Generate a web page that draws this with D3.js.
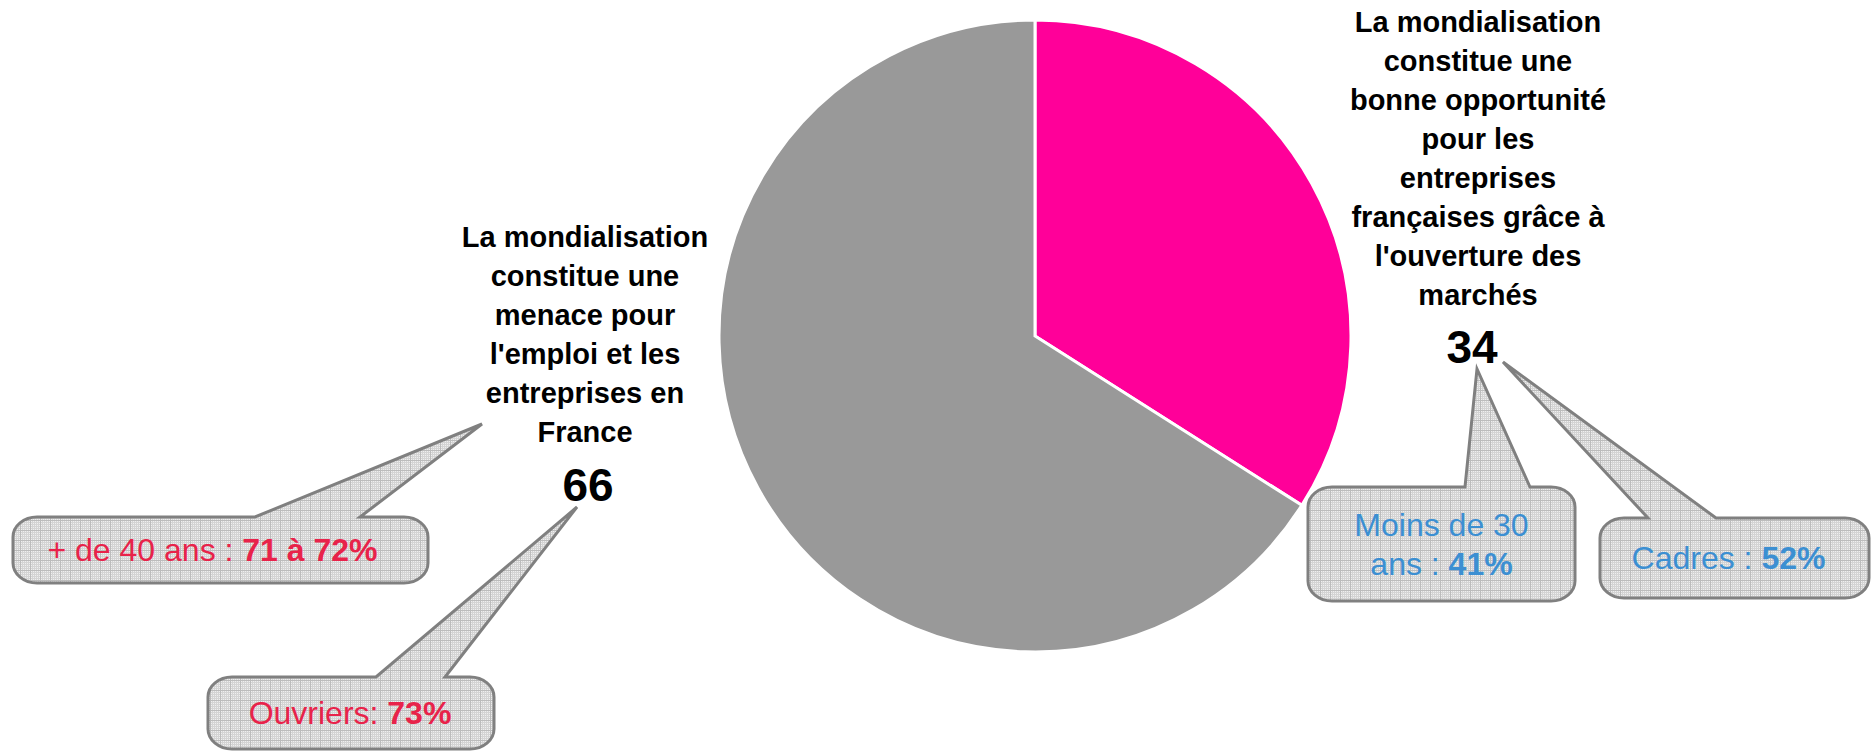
<!DOCTYPE html>
<html>
<head>
<meta charset="utf-8">
<script src="https://cdn.jsdelivr.net/npm/d3@7"></script>
<style>
  html, body { margin: 0; padding: 0; background: #fff; }
  svg { display: block; }
</style>
</head>
<body>
<svg id="chart" width="1872" height="751"></svg>
<script>
// ---------- DATA ----------
const categories = ["opportunite", "menace"];
const values = [34, 66];
const sliceColors = ["#FF0099", "#999999"];
const labelLines = [
  ["La mondialisation", "constitue une", "bonne opportunité", "pour les", "entreprises", "françaises grâce à", "l'ouverture des", "marchés"],
  ["La mondialisation", "constitue une", "menace pour", "l'emploi et les", "entreprises en", "France"]
];
const calloutRegular = [["+ de 40 ans : "], ["Ouvriers: "], ["Moins de 30", "ans : "], ["Cadres : "]];
const calloutBold = [["71 à 72%"], ["73%"], ["", "41%"], ["52%"]];
const calloutGroup = ["menace", "menace", "opportunite", "opportunite"];

// ---------- LAYOUT ----------
const W = 1872, H = 751;
const cx = 1035, cy = 336, R = 316;
const labelPos = {
  opportunite: { x: 1478, y0: 21.5, value: { x: 1472, y: 346 } },
  menace: { x: 585, y0: 237, value: { x: 588, y: 484 } }
};
const lineH = 39;
const textColors = { menace: "#E8234A", opportunite: "#3C8FD2" };
const boxes = [
  { x0: 13, y0: 517, x1: 428, y1: 583, b1: 255, b2: 360, tx: 482, ty: 424, dx: -8 },
  { x0: 208, y0: 677, x1: 494, y1: 749, b1: 376, b2: 445, tx: 577, ty: 507, dx: -1 },
  { x0: 1308, y0: 487, x1: 1575, y1: 601, b1: 1465, b2: 1530, tx: 1477, ty: 369, dx: 0 },
  { x0: 1600, y0: 518, x1: 1869, y1: 598, b1: 1648, b2: 1716, tx: 1503, ty: 362, dx: -6 }
];

const svg = d3.select("#chart");

const defs = svg.append("defs");
const pat = defs.append("pattern").attr("id", "grid").attr("patternUnits", "userSpaceOnUse")
  .attr("width", 10).attr("height", 10);
pat.append("rect").attr("width", 10).attr("height", 10).attr("fill", "#efefef");
for (let i = 0; i < 10; i += 2) {
  pat.append("rect").attr("x", i).attr("y", 0).attr("width", 1).attr("height", 10).attr("fill", "#d4d4d4");
  pat.append("rect").attr("x", 0).attr("y", i).attr("width", 10).attr("height", 1).attr("fill", "#d4d4d4");
}
pat.append("rect").attr("x", 0).attr("y", 0).attr("width", 1).attr("height", 10).attr("fill", "#bcbcbc");
pat.append("rect").attr("x", 0).attr("y", 0).attr("width", 10).attr("height", 1).attr("fill", "#bcbcbc");

// ---------- PIE ----------
const pie = d3.pie().sort(null).value(d => d.v).startAngle(0).endAngle(2 * Math.PI);
const arcs = pie(values.map((v, i) => ({ v, c: sliceColors[i], k: categories[i] })));
const arc = d3.arc().innerRadius(0).outerRadius(R);
svg.append("g").attr("transform", `translate(${cx},${cy})`)
  .selectAll("path").data(arcs).join("path")
  .attr("d", arc)
  .attr("fill", d => d.data.c)
  .attr("stroke", "#fff")
  .attr("stroke-width", 3)
  .attr("stroke-linejoin", "miter");

// ---------- CATEGORY LABELS ----------
const font = "'Liberation Sans', Arial, sans-serif";
categories.forEach((k, i) => {
  const p = labelPos[k];
  const g = svg.append("g");
  labelLines[i].forEach((ln, j) => {
    g.append("text").attr("x", p.x).attr("y", p.y0 + j * lineH).attr("dy", "0.35em")
      .attr("text-anchor", "middle").attr("font-family", font).attr("font-weight", "bold")
      .attr("font-size", 29).attr("fill", "#000").text(ln);
  });
  g.append("text").attr("x", p.value.x).attr("y", p.value.y).attr("dy", "0.36em")
    .attr("text-anchor", "middle").attr("font-family", font).attr("font-weight", "bold")
    .attr("font-size", 46).attr("fill", "#000").text(values[i]);
});

// ---------- CALLOUTS ----------
function calloutPath(b) {
  const rx = 24, ry = 20;
  return `M${b.x0 + rx},${b.y0} L${b.b1},${b.y0} L${b.tx},${b.ty} L${b.b2},${b.y0} L${b.x1 - rx},${b.y0}` +
    ` A${rx},${ry} 0 0 1 ${b.x1},${b.y0 + ry} L${b.x1},${b.y1 - ry}` +
    ` A${rx},${ry} 0 0 1 ${b.x1 - rx},${b.y1} L${b.x0 + rx},${b.y1}` +
    ` A${rx},${ry} 0 0 1 ${b.x0},${b.y1 - ry} L${b.x0},${b.y0 + ry}` +
    ` A${rx},${ry} 0 0 1 ${b.x0 + rx},${b.y0} Z`;
}
boxes.forEach((b, i) => {
  const g = svg.append("g");
  g.append("path").attr("d", calloutPath(b)).attr("fill", "url(#grid)")
    .attr("stroke", "#808080").attr("stroke-width", 3).attr("stroke-linejoin", "miter");
  const n = calloutRegular[i].length;
  const mx = (b.x0 + b.x1) / 2 + b.dx, my = (b.y0 + b.y1) / 2;
  const lh = 39;
  calloutRegular[i].forEach((reg, j) => {
    const t = g.append("text").attr("x", mx).attr("y", my + (j - (n - 1) / 2) * lh).attr("dy", "0.35em")
      .attr("text-anchor", "middle").attr("font-family", font).attr("font-size", 32)
      .attr("fill", textColors[calloutGroup[i]]);
    t.append("tspan").text(reg);
    if (calloutBold[i][j]) t.append("tspan").attr("font-weight", "bold").text(calloutBold[i][j]);
  });
});
</script>
</body>
</html>
